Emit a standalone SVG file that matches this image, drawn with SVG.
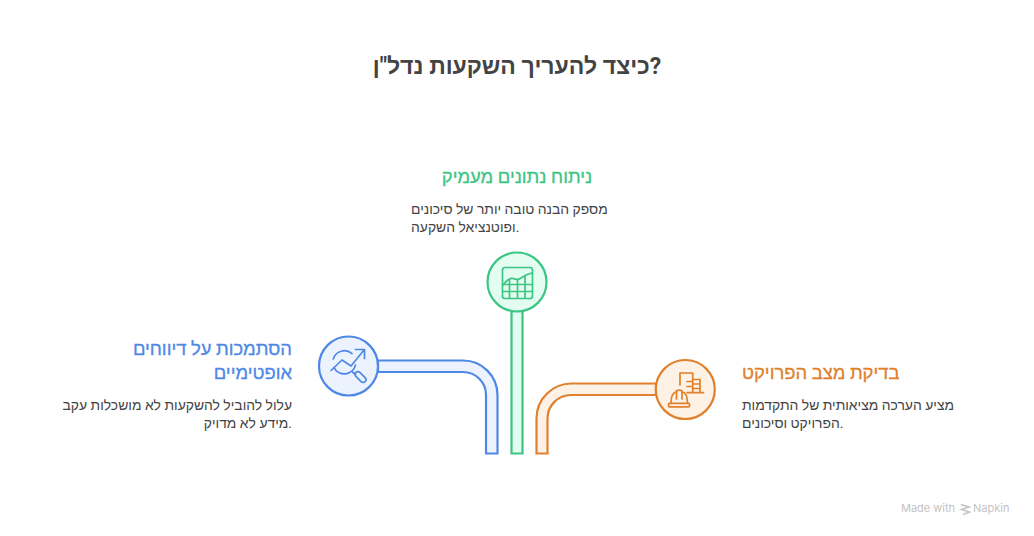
<svg xmlns="http://www.w3.org/2000/svg" width="1034" height="536" viewBox="0 0 1034 536">
<style>
text{font-family:Roboto,"Liberation Sans",sans-serif}
.t{font-size:23px;font-weight:700;fill:#434343;text-anchor:middle}
.h{font-size:18.400px;font-weight:500;stroke-width:.3}
.b{font-size:13.900px;fill:#434343}
.pipe,.c{stroke-width:2.2}
.ic{fill:none;stroke-width:1.700;stroke-linecap:round;stroke-linejoin:round}
.blue{fill:#EDF3FE;stroke:#4E88E7}.green{fill:#E3FDF0;stroke:#3CC583}.orange{fill:#FEF1E5;stroke:#E0802C}
.sb{stroke:#4E88E7}.sg{stroke:#3CC583}.so{stroke:#E0802C}
.wm{font-family:Inter,sans-serif;font-size:11px;fill:#C4C4C4}
</style>
<rect width="1034" height="536" fill="#fff"/>
<text class="t" x="517" y="74">כיצד להעריך השקעות נדל"ן?</text>
<g id="connectors">
<path class="pipe blue" d="M378 360.500H463A34.500 34.500 0 0 1 497.500 395V453.500H486V395A23 23 0 0 0 463 372H378Z"/>
<path class="pipe green" d="M511.500 311H522.500V453.500H511.500Z"/>
<path class="pipe orange" d="M656 383.500H571.500A35 35 0 0 0 536.500 418.500V453.500H547.500V418.500A23.500 23.500 0 0 1 571 395H656Z"/>
</g>
<g id="node-blue">
<circle class="c blue" cx="348.500" cy="366" r="29.500"/>
<g class="ic sb">
<path d="M333.300 359A11.500 11.500 0 0 1 352 353.700M355.500 365A11.500 11.500 0 0 1 334 367.500"/>
<path d="M331 370.500L342 360L351 366L364 350M355.500 349.500H364.500V358.500"/>
<path d="M352.500 372L355.500 374.500"/>
<rect x="-2.800" y="-6.500" width="5.600" height="13" rx="2.800" transform="translate(360.500 377) rotate(-45)"/>
</g>
<text class="h sb" x="292" y="355" text-anchor="end" fill="#4E88E7">הסתמכות על דיווחים</text>
<text class="h sb" x="292" y="379" text-anchor="end" fill="#4E88E7">אופטימיים</text>
<text class="b" x="292" y="410" text-anchor="end">עלול להוביל להשקעות לא מושכלות עקב</text>
<text class="b" x="292" y="428" text-anchor="end">מידע לא מדויק.</text>
</g>
<g id="node-green">
<circle class="c green" cx="517" cy="282" r="29.500"/>
<g class="ic sg">
<rect x="502.500" y="267.500" width="30" height="31" rx="2.500"/>
<path d="M503 285C507 280 510 277.500 513 278.500C516 280 518 280 521 278C525 275 529 273.500 532 273"/>
<path d="M503 284.500H532M503 291.500H532M509.500 280V298M517.500 280V298M525 276V298"/>
</g>
<text class="h sg" x="517" y="183" text-anchor="middle" fill="#3CC583">ניתוח נתונים מעמיק</text>
<text class="b" x="411" y="214">מספק הבנה טובה יותר של סיכונים</text>
<text class="b" x="411" y="232">ופוטנציאל השקעה.</text>
</g>
<g id="node-orange">
<circle class="c orange" cx="685.300" cy="389.500" r="29.500"/>
<g class="ic so">
<path d="M680 385V373H692.700V392.700M692.700 379.500H700V392.700M687 392.700H703.500M687 381.500H692.700M687 386.500H692.700M692.700 384H700M692.700 388.500H700"/>
<path d="M671 403C671 396 673.500 392.500 676.500 391.500V399M687.500 403C687.500 396 685 392.500 682 391.500V399M676.500 391C678 389.700 680.500 389.700 682 391"/>
<rect x="668.500" y="403.300" width="21" height="3.500" rx="1"/>
</g>
<text class="h so" x="742" y="379" fill="#E0802C">בדיקת מצב הפרויקט</text>
<text class="b" x="742" y="410">מציע הערכה מציאותית של התקדמות</text>
<text class="b" x="742" y="428">הפרויקט וסיכונים.</text>
</g>
<g id="watermark">
<text class="wm" x="901" y="512">Made with</text>
<path d="M961 504.500L969 507L961.500 509.500L969.500 512L963 514.500" fill="none" stroke="#C4C4C4" stroke-width="1.600"/>
<text class="wm" x="973" y="512">Napkin</text>
</g>
</svg>
